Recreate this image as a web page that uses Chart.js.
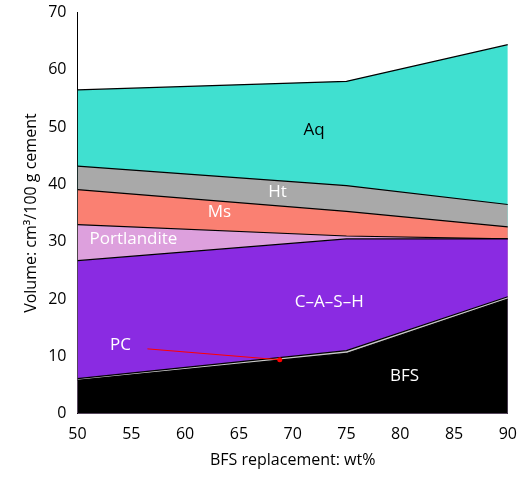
<!DOCTYPE html>
<html><head><meta charset="utf-8">
<script src="https://cdn.jsdelivr.net/npm/chart.js@4/dist/chart.umd.min.js"></script>
<style>body{margin:0;background:#fff}#w{width:520px;height:480px}</style>
</head><body><div id="w"><canvas id="c"></canvas></div>
<script>
const xs = [50, 75, 90];
const bfs = [5.8, 10.5, 20];
const pc = [0.3, 0.5, 0.4];
const cash = [20.6, 19.5, 10.1];
const portlandite = [6.3, 0.5, 0];
const ms = [6.1, 4.3, 2.1];
const ht = [4.1, 4.5, 3.9];
const aq = [13.3, 18.2, 27.9];
const xTicks = [50,55,60,65,70,75,80,85,90];
const labels = [
  {t:'Aq', x:72, y:49.5, c:'#000'},
  {t:'Ht', x:68.6, y:38.7, c:'#fff'},
  {t:'Ms', x:63.2, y:35.2, c:'#fff'},
  {t:'Portlandite', x:55.2, y:30.5, c:'#fff'},
  {t:'C–A–S–H', x:73.4, y:19.5, c:'#fff'},
  {t:'PC', x:54, y:12, c:'#fff'},
  {t:'BFS', x:80.4, y:6.5, c:'#fff'}
];
const series = [
  ['BFS', bfs, '#000000'], ['PC', pc, '#c8c8c8'], ['C–A–S–H', cash, '#8a2be2'],
  ['Portlandite', portlandite, '#dda0dd'], ['Ms', ms, '#fa8072'], ['Ht', ht, '#a9a9a9'], ['Aq', aq, '#40e0d0']
];
const textPlugin = {
  id:'txt',
  afterDatasetsDraw(ch){
    const {ctx, scales:{x,y}} = ch;
    ctx.save();
    ctx.strokeStyle = '#ff0000'; ctx.lineWidth = 1;
    ctx.beginPath(); ctx.moveTo(x.getPixelForValue(56.5), y.getPixelForValue(11.3));
    ctx.lineTo(x.getPixelForValue(68.8), y.getPixelForValue(9.4)); ctx.stroke();
    ctx.fillStyle='#ff0000'; ctx.beginPath();
    ctx.arc(x.getPixelForValue(68.8), y.getPixelForValue(9.4), 2.5, 0, 7); ctx.fill();
    ctx.font = '17px "Open Sans"'; ctx.textAlign='center'; ctx.textBaseline='middle';
    labels.forEach(l=>{ctx.fillStyle=l.c; ctx.fillText(l.t, x.getPixelForValue(l.x), y.getPixelForValue(l.y));});
    ctx.restore();
  }
};
new Chart(document.getElementById('c'), {
  type:'line',
  data:{datasets: series.map(([n,v,col])=>({label:n, data:xs.map((xx,i)=>({x:xx,y:v[i]})),
    backgroundColor:col, borderColor:'#000', borderWidth:1.2, fill:true, pointRadius:0, tension:0}))},
  options:{
    responsive:true, maintainAspectRatio:false, animation:false,
    layout:{padding:{top:8,right:10,left:18,bottom:6}},
    plugins:{legend:{display:false}, tooltip:{enabled:false}},
    scales:{
      x:{type:'linear', min:50, max:90, afterBuildTicks:a=>{a.ticks=xTicks.map(v=>({value:v}));},
        grid:{display:false, drawTicks:true}, border:{color:'#000'},
        ticks:{color:'#000', font:{size:16, family:'Open Sans'}},
        title:{display:true, text:'BFS replacement: wt%', color:'#000', font:{size:16, family:'Open Sans'}}},
      y:{stacked:true, min:0, max:70, grid:{display:false}, border:{color:'#000'},
        ticks:{stepSize:10, color:'#000', font:{size:16, family:'Open Sans'}},
        title:{display:true, text:'Volume: cm³/100 g cement', color:'#000', font:{size:16, family:'Open Sans'}}}
    }
  },
  plugins:[textPlugin]
});
</script></body></html>
